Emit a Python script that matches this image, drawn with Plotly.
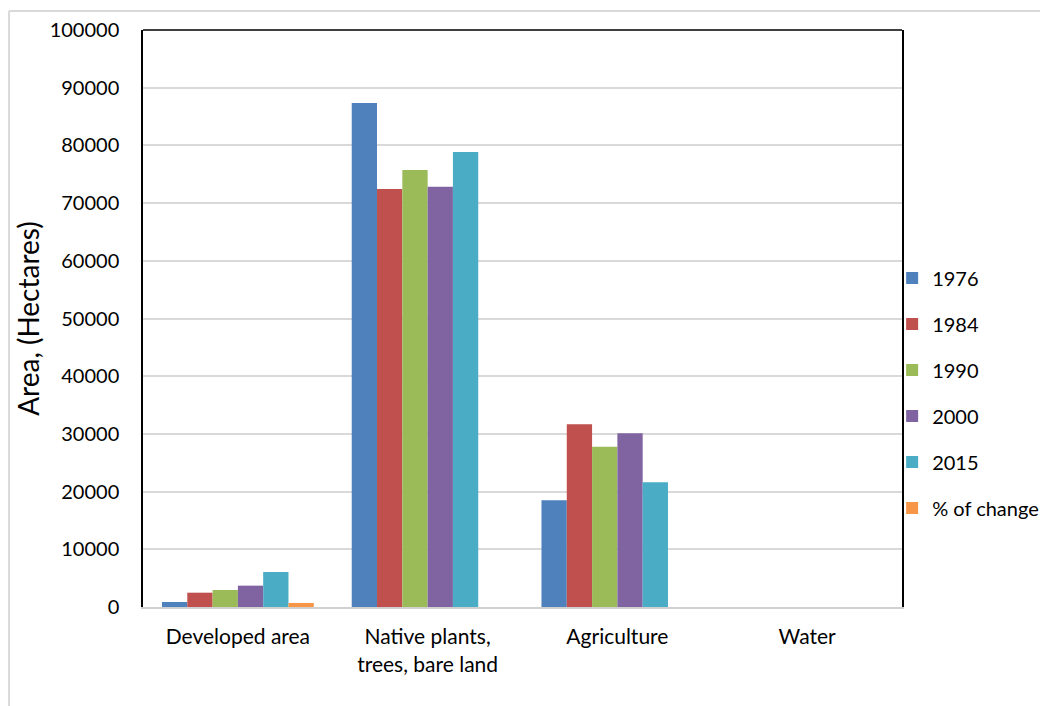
import plotly.graph_objects as go

# Land cover categories and area (hectares) per survey year
categories = ["Developed area", "Native plants,<br>trees, bare land", "Agriculture", "Water"]
series_names = ["1976", "1984", "1990", "2000", "2015", "% of change"]
area_1976 = [870, 87350, 18490, 0]
area_1984 = [2480, 72440, 31660, 0]
area_1990 = [2950, 75740, 27780, 0]
area_2000 = [3700, 72840, 30100, 0]
area_2015 = [6070, 78860, 21600, 0]
pct_change = [700, 0, 0, 0]
colors = ["#4F81BD", "#C0504D", "#9BBB59", "#8064A2", "#4BACC6", "#F79646"]
y_ticks = [0, 10000, 20000, 30000, 40000, 50000, 60000, 70000, 80000, 90000, 100000]

all_series = [area_1976, area_1984, area_1990, area_2000, area_2015, pct_change]

FONT = "Lato"

fig = go.Figure()
for name, vals, col in zip(series_names, all_series, colors):
    fig.add_trace(go.Bar(
        x=categories, y=vals, name=name, legendgroup=name,
        marker=dict(color=col, line=dict(width=0)),
    ))

fig.update_layout(
    width=1040, height=706,
    margin=dict(l=143, r=138, t=30, b=99, autoexpand=False),
    paper_bgcolor="white", plot_bgcolor="white",
    barmode="group", bargap=0.2, bargroupgap=0,
    font=dict(family=FONT, size=20, color="#000000"),
    showlegend=True,
    legend=dict(
        x=0.987, xanchor="left", y=0.371, yanchor="middle",
        traceorder="grouped", tracegroupgap=17,
        font=dict(family=FONT, size=20, color="#000000"),
        bgcolor="rgba(0,0,0,0)", itemwidth=30,
    ),
    xaxis=dict(
        showgrid=False, showline=True, linecolor="#D0D0D0", linewidth=2,
        ticks="", tickfont=dict(family=FONT, size=21),
        ticklabelstandoff=10,
    ),
    yaxis=dict(
        range=[0, 100000], tickvals=y_ticks,
        showgrid=True, gridcolor="#D9D9D9", gridwidth=1.5,
        showline=True, linecolor="#000000", linewidth=1.5, mirror=True,
        ticks="", zeroline=False, tickformat="d",
        tickfont=dict(family=FONT, size=20), ticklabelstandoff=18,
        title=dict(text="Area, (Hectares)", font=dict(family=FONT, size=28), standoff=2),
    ),
    shapes=[
        # top edge of the plot frame
        dict(type="line", xref="paper", yref="paper", x0=0, x1=1, y0=1, y1=1,
             line=dict(color="#000000", width=1.5)),
        # outer chart border
        dict(type="line", xref="paper", yref="paper", x0=-0.1765, x1=1.25, y0=1.0329, y1=1.0329,
             line=dict(color="#D9D9D9", width=2)),
        dict(type="line", xref="paper", yref="paper", x0=-0.1765, x1=-0.1765, y0=1.0329, y1=-0.25,
             line=dict(color="#D9D9D9", width=2)),
    ],
)

fig.write_html("out.html")
